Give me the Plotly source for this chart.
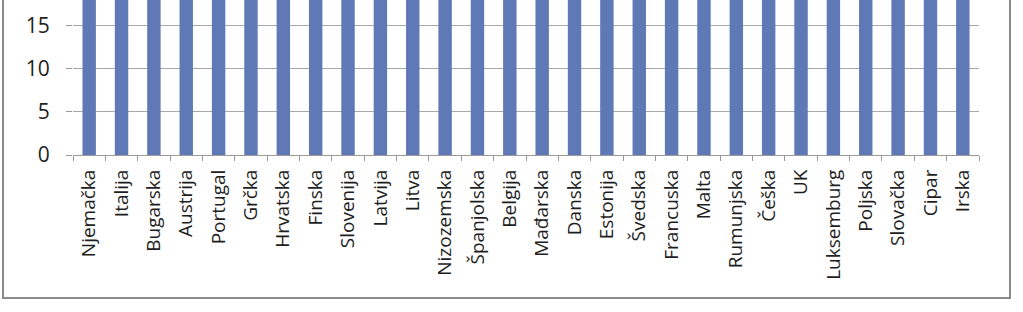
import plotly.graph_objects as go

countries = ["Njemačka", "Italija", "Bugarska", "Austrija", "Portugal", "Grčka",
             "Hrvatska", "Finska", "Slovenija", "Latvija", "Litva", "Nizozemska",
             "Španjolska", "Belgija", "Mađarska", "Danska", "Estonija", "Švedska",
             "Francuska", "Malta", "Rumunjska", "Češka", "UK", "Luksemburg",
             "Poljska", "Slovačka", "Cipar", "Irska"]
# Bars run past the top of the visible (cropped) chart; values above ~18 are estimates.
values = [60, 57, 55, 53, 51, 50, 48, 47, 46, 45, 44, 43, 42, 41, 40, 39, 38, 37,
          36, 35, 34, 33, 32, 31, 30, 29, 28, 27]
y_ticks = [0, 5, 10, 15]

W, H = 1023, 312
L, R, T, B = 73, 44, 0, 157
pw, ph = W - L - R, H - T - B

def px_x(x):
    return (x - L) / pw

def px_y(y):
    return (H - B - y) / ph

fig = go.Figure(go.Bar(x=countries, y=values, marker=dict(color="#5f79b6", line=dict(width=0))))

fig.update_layout(
    width=W, height=H,
    margin=dict(l=L, r=R, t=T, b=B),
    paper_bgcolor="white", plot_bgcolor="white",
    bargap=0.585,
    showlegend=False,
    font=dict(family="Open Sans", color="#1e1e1e"),
    shapes=[dict(type="rect", xref="paper", yref="paper",
                 x0=px_x(3), x1=px_x(1010), y0=px_y(298), y1=1.2,
                 line=dict(color="#8a8a8a", width=2), layer="above")],
)
fig.update_xaxes(
    type="category", tickangle=-90, tickson="boundaries",
    ticks="outside", ticklen=5, tickcolor="#9a9a9a", tickwidth=1,
    showline=True, linecolor="#9a9a9a", linewidth=1,
    showgrid=False, ticklabelstandoff=6,
    tickfont=dict(size=19, family="Open Sans", color="#1e1e1e"),
)
fig.update_yaxes(
    range=[0, 18.0], tickvals=y_ticks, ticktext=[str(v) for v in y_ticks],
    ticks="outside", ticklen=6, tickcolor="#9a9a9a",
    showgrid=True, gridcolor="#a8a8a8", gridwidth=1,
    showline=False, zeroline=False,
    ticklabelstandoff=12,
    tickfont=dict(size=21, family="Open Sans", color="#1e1e1e"),
)

fig.write_html("out.html")
